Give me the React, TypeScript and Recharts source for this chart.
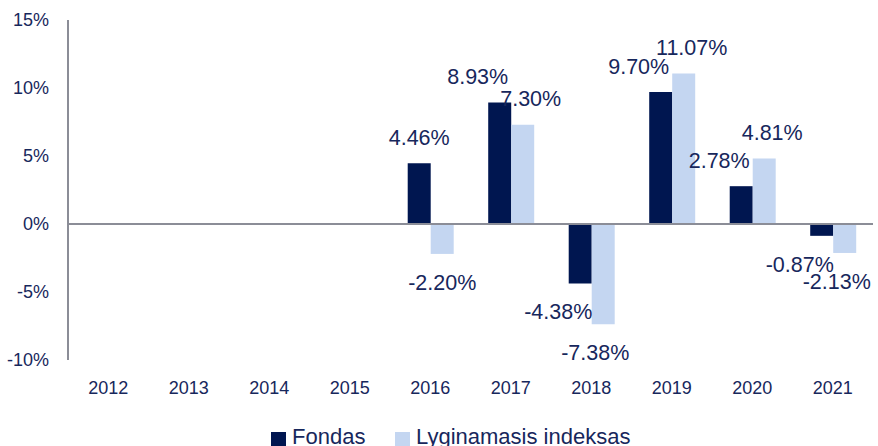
import React from 'react';
import { BarChart, Bar, XAxis, YAxis, ReferenceLine, Legend } from 'recharts';

const years = ['2012', '2013', '2014', '2015', '2016', '2017', '2018', '2019', '2020', '2021'];
const fondas: (number | null)[] = [null, null, null, null, 4.46, 8.93, -4.38, 9.70, 2.78, -0.87];
const indeksas: (number | null)[] = [null, null, null, null, -2.20, 7.30, -7.38, 11.07, 4.81, -2.13];
const yTicks = [-10, -5, 0, 5, 10, 15];

const data = years.map((y, i) => ({ year: y, fondas: fondas[i], indeksas: indeksas[i] }));

const DARK = '#001650';
const LIGHT = '#c4d6f1';
const TEXT = '#17275c';
const GRAY = '#8b8d97';
const FONT = '"Liberation Sans", Arial, sans-serif';

const makeLabel = (isFirst: boolean) => (props: any) => {
  const { x, y, width, height, value } = props;
  if (value === null || value === undefined) return null;
  const own = isFirst ? fondas : indeksas;
  const i = own.findIndex((v) => v === value);
  const a = i >= 0 ? fondas[i] : null;
  const b = i >= 0 ? indeksas[i] : null;
  const sameSide = a !== null && b !== null && (a >= 0) === (b >= 0);
  const dx = sameSide ? (isFirst ? -22 : value >= 0 ? 8 : -8) : 0;
  const top = Math.min(y, y + height);
  const bottom = Math.max(y, y + height);
  const cx = x + width / 2 + dx;
  const center = value >= 0 ? top - 26 : bottom + 28;
  return (
    <text x={cx} y={center + 7.7} textAnchor="middle" fill={TEXT} fontSize={21.5} fontFamily={FONT}>
      {`${Number(value).toFixed(2)}%`}
    </text>
  );
};

const renderLegend = () => (
  <div style={{ position: 'relative', width: 878, height: 30, fontFamily: FONT, fontSize: 22, color: TEXT }}>
    <div style={{ position: 'absolute', left: 271, top: 16, width: 15, height: 15, background: DARK }} />
    <span style={{ position: 'absolute', left: 292, top: 8, whiteSpace: 'nowrap' }}>Fondas</span>
    <div style={{ position: 'absolute', left: 395, top: 16, width: 15, height: 15, background: LIGHT }} />
    <span style={{ position: 'absolute', left: 416, top: 8, whiteSpace: 'nowrap' }}>Lyginamasis indeksas</span>
  </div>
);

export default function App() {
  return (
    <div style={{ position: 'absolute', left: 0, top: 0, width: 878, height: 446, background: '#fff' }}>
      <BarChart
        width={878}
        height={446}
        data={data}
        margin={{ top: 20, right: 5, bottom: 0, left: 0 }}
        barCategoryGap="22%"
        barGap={0}
      >
        <XAxis
          dataKey="year"
          axisLine={false}
          tickLine={false}
          height={56}
          tickMargin={15}
          tick={{ fill: TEXT, fontSize: 18, fontFamily: FONT }}
          interval={0}
        />
        <YAxis
          width={68}
          domain={[-10, 15]}
          ticks={yTicks}
          tickFormatter={(v: number) => `${v}%`}
          axisLine={{ stroke: GRAY, strokeWidth: 2 }}
          tickLine={false}
          tickMargin={13}
          tick={{ fill: TEXT, fontSize: 18, fontFamily: FONT }}
          interval={0}
        />
        <ReferenceLine y={0} stroke={GRAY} strokeWidth={2} />
        <Bar dataKey="fondas" name="Fondas" fill={DARK} isAnimationActive={false} label={makeLabel(true)} />
        <Bar dataKey="indeksas" name="Lyginamasis indeksas" fill={LIGHT} isAnimationActive={false} label={makeLabel(false)} />
        <Legend verticalAlign="bottom" content={renderLegend} wrapperStyle={{ left: 0, width: 878 }} />
      </BarChart>
    </div>
  );
}
